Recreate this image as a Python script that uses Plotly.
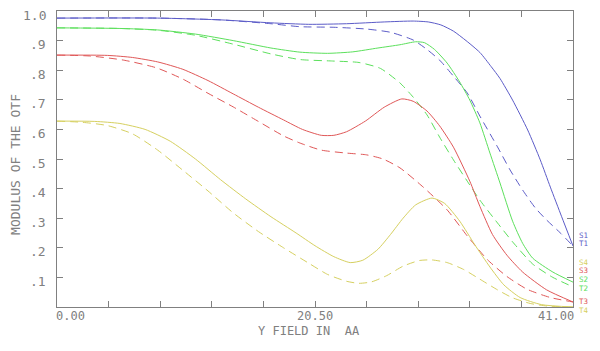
import plotly.graph_objects as go

# ---------------- data ----------------
# Field positions (Y field, 0..41) and MTF modulus for each series.
t1_x = [0, 8, 13, 17, 20, 23, 26, 28.3, 29.5, 30.5, 31.5, 32.5, 33.6, 34.5, 35.2, 36.2, 37.4, 38.4, 39.2, 40.1, 41.0]
t1_y = [0.976, 0.976, 0.970, 0.960, 0.955, 0.957, 0.963, 0.966, 0.963, 0.953, 0.932, 0.900, 0.860, 0.812, 0.772, 0.699, 0.598, 0.497, 0.405, 0.305, 0.206]

s1_x = [0, 8, 13, 17, 19.3, 22, 24.6, 26.5, 28.3, 29.4, 30.4, 31.5, 32.6, 33.6, 35.0, 36.0, 37.0, 38.0, 38.9, 40.0, 41.0]
s1_y = [0.976, 0.976, 0.970, 0.957, 0.947, 0.945, 0.939, 0.928, 0.902, 0.870, 0.834, 0.780, 0.723, 0.645, 0.541, 0.463, 0.395, 0.335, 0.294, 0.250, 0.206]

t2_x = [0, 5, 8, 11, 14, 17, 19.3, 21.5, 23.5, 25.5, 27.25, 28.5, 29.2, 30.0, 31.0, 32.0, 32.8, 33.6, 34.4, 35.2, 36.2, 37.0, 37.8, 39.4, 41.0]
t2_y = [0.943, 0.941, 0.936, 0.922, 0.900, 0.875, 0.861, 0.857, 0.862, 0.875, 0.886, 0.896, 0.893, 0.870, 0.824, 0.760, 0.699, 0.622, 0.520, 0.419, 0.290, 0.215, 0.165, 0.118, 0.084]

s2_x = [0, 5, 8, 11, 14, 17, 19.3, 21.9, 24.0, 25.7, 27.25, 28.3, 29.4, 30.4, 31.5, 32.6, 33.6, 35.0, 36.2, 37.8, 39.4, 41.0]
s2_y = [0.943, 0.941, 0.935, 0.918, 0.888, 0.855, 0.836, 0.831, 0.826, 0.806, 0.757, 0.709, 0.649, 0.574, 0.497, 0.425, 0.361, 0.284, 0.220, 0.145, 0.100, 0.068]

t3_x = [0, 4, 6, 8, 10, 12, 14, 16, 18, 19.5, 21, 22, 23, 24.5, 26, 27.4, 28.3, 29.4, 30.4, 31.5, 32.8, 33.6, 34.6, 35.75, 37.0, 38.9, 41.0]
t3_y = [0.851, 0.850, 0.843, 0.828, 0.803, 0.765, 0.720, 0.675, 0.632, 0.600, 0.580, 0.580, 0.592, 0.628, 0.675, 0.703, 0.695, 0.662, 0.612, 0.540, 0.425, 0.340, 0.245, 0.175, 0.118, 0.058, 0.017]

s3_x = [0, 2.6, 5.3, 7.9, 10, 12, 14, 16, 18, 19.3, 21, 23, 24.6, 25.9, 27.25, 29.1, 31.0, 32.6, 34.2, 35.75, 37.35, 39.2, 41.0]
s3_y = [0.851, 0.848, 0.834, 0.808, 0.770, 0.722, 0.676, 0.627, 0.578, 0.554, 0.530, 0.520, 0.514, 0.500, 0.470, 0.405, 0.328, 0.240, 0.160, 0.103, 0.060, 0.032, 0.017]

t4_x = [0, 3, 5, 7, 9, 11, 13, 15, 17, 19, 20.5, 22, 23.3, 24.3, 25.5, 26.5, 27.5, 28.5, 29.8, 30.8, 32.0, 33.2, 34.4, 35.5, 36.8, 38.5, 41.0]
t4_y = [0.628, 0.627, 0.620, 0.600, 0.560, 0.500, 0.430, 0.365, 0.305, 0.250, 0.207, 0.170, 0.150, 0.158, 0.195, 0.245, 0.300, 0.345, 0.368, 0.350, 0.290, 0.210, 0.135, 0.075, 0.032, 0.008, 0.0]

s4_x = [0, 2, 4, 6, 8, 10, 12, 14, 16, 18, 20, 21.5, 23, 24, 25, 26.2, 27.5, 28.8, 29.8, 31.0, 32.3, 33.6, 35.0, 36.2, 37.6, 39.0, 41.0]
s4_y = [0.628, 0.624, 0.613, 0.585, 0.530, 0.462, 0.392, 0.318, 0.255, 0.200, 0.148, 0.110, 0.087, 0.080, 0.085, 0.106, 0.138, 0.157, 0.159, 0.150, 0.127, 0.094, 0.058, 0.031, 0.012, 0.003, 0.0]

# Right-side labels and the levels (fraction of plot height) where they are printed
label_names = ["S1", "T1", "S4", "S3", "S2", "T2", "T3", "T4"]
label_levels = [0.242, 0.214, 0.152, 0.122, 0.092, 0.063, 0.018, -0.012]

y_tick_vals = [0.1, 0.2, 0.3, 0.4, 0.5, 0.6, 0.7, 0.8, 0.9, 1.0]
y_tick_text = [".1", ".2", ".3", ".4", ".5", ".6", ".7", ".8", ".9", "1.0"]
x_tick_vals = [0, 4.1, 8.2, 12.3, 16.4, 20.5, 24.6, 28.7, 32.8, 36.9, 41.0]
x_label_vals = [0, 20.5, 41.0]
x_label_text = ["0.00", "20.50", "41.00"]

# ---------------- styles ----------------
BLUE = "#5c5cc8"
GREEN = "#5ce05c"
RED = "#e05858"
YELLOW = "#d6d060"
GRAY = "#808080"
FONT = "DejaVu Sans Mono"

series = [
    (t1_x, t1_y, BLUE, "solid", "T1"),
    (s1_x, s1_y, BLUE, "8px,5px", "S1"),
    (t2_x, t2_y, GREEN, "solid", "T2"),
    (s2_x, s2_y, GREEN, "8px,5px", "S2"),
    (t3_x, t3_y, RED, "solid", "T3"),
    (s3_x, s3_y, RED, "8px,5px", "S3"),
    (t4_x, t4_y, YELLOW, "solid", "T4"),
    (s4_x, s4_y, YELLOW, "8px,5px", "S4"),
]
label_colors = {"S1": BLUE, "T1": BLUE, "S2": GREEN, "T2": GREEN,
                "S3": RED, "T3": RED, "S4": YELLOW, "T4": YELLOW}

fig = go.Figure()
for xs, ys, col, dash, name in series:
    fig.add_trace(go.Scatter(
        x=xs, y=ys, mode="lines", name=name,
        line=dict(color=col, width=1, dash=dash, shape="spline", smoothing=0.6),
        showlegend=False, hoverinfo="skip",
    ))

annotations = []
# y tick labels
for v, t in zip(y_tick_vals, y_tick_text):
    annotations.append(dict(x=0, xref="paper", y=v, yref="y", text=t, showarrow=False,
                            xanchor="right", yanchor="middle", xshift=-9, yshift=-4,
                            font=dict(family=FONT, size=13, color=GRAY)))
# x tick labels
anchors = ["left", "center", "right"]
shifts = [-3, 0, 3]
for v, t, a, s in zip(x_label_vals, x_label_text, anchors, shifts):
    annotations.append(dict(x=v, xref="x", y=0, yref="paper", text=t, showarrow=False,
                            xanchor=a, yanchor="middle", yshift=-9, xshift=s,
                            font=dict(family=FONT, size=12, color=GRAY)))
# axis titles
annotations.append(dict(x=20.0, xref="x", y=0, yref="paper", text="Y FIELD IN  AA",
                        showarrow=False, xanchor="center", yanchor="middle", yshift=-24,
                        font=dict(family=FONT, size=12, color=GRAY)))
annotations.append(dict(x=0, xref="paper", y=0.48, yref="paper", text="MODULUS OF THE OTF",
                        showarrow=False, xanchor="center", yanchor="middle", xshift=-41,
                        textangle=-90, font=dict(family=FONT, size=13, color=GRAY)))
# right-side series labels
for n, lv in zip(label_names, label_levels):
    annotations.append(dict(x=1, xref="paper", y=lv, yref="paper", text=n, showarrow=False,
                            xanchor="left", yanchor="middle", xshift=5, borderpad=0,
                            font=dict(family=FONT, size=7.5, color=label_colors[n])))

fig.update_layout(
    width=600, height=351,
    margin=dict(l=57, r=27, t=11, b=44),
    paper_bgcolor="white", plot_bgcolor="white",
    annotations=annotations,
)
fig.update_xaxes(range=[0, 41], showgrid=False, zeroline=False,
                 showline=True, linecolor=GRAY, linewidth=1, mirror="ticks",
                 ticks="inside", ticklen=6, tickcolor=GRAY, tickwidth=1,
                 tickmode="array", tickvals=x_tick_vals, showticklabels=False)
fig.update_yaxes(range=[0, 1], showgrid=False, zeroline=False,
                 showline=True, linecolor=GRAY, linewidth=1, mirror="ticks",
                 ticks="inside", ticklen=6, tickcolor=GRAY, tickwidth=1,
                 tickmode="array", tickvals=y_tick_vals, showticklabels=False)

fig.write_html("out.html")
